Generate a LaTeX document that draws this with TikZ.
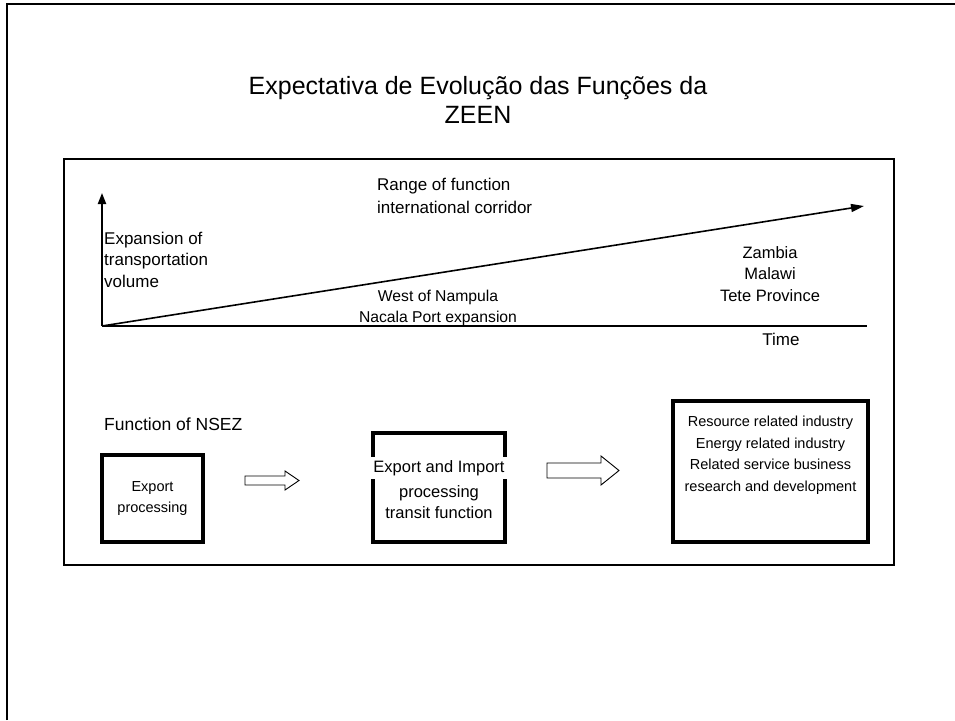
\documentclass[tikz,border=0pt]{standalone}
\usepackage{fontspec}
\setmainfont{Liberation Sans}
\usetikzlibrary{arrows.meta}
\begin{document}
\begin{tikzpicture}[x=1pt,y=-1pt,
  lbl/.style={inner sep=0pt, font=\fontsize{16.5}{21.5}\selectfont},
  small/.style={inner sep=0pt, font=\fontsize{14.5}{21.5}\selectfont},
  fbox/.style={draw, line width=4pt, rectangle, inner sep=0pt},
  axis/.style={line width=2pt},
  hollow/.style={draw, line width=0.9pt, fill=white, line join=miter}]
\useasboundingbox (0,0) rectangle (955,720);
% outer frame
\draw[line width=2pt] (7,720) -- (7,4) -- (955,4);
% title
\node[inner sep=0pt, align=center, font=\fontsize{25}{28.5}\selectfont] (title) at (478,100) {Expectativa de Evolução das Funções da\\ZEEN};
% inner frame
\draw[line width=2.5pt] (64,159) rectangle (894,565);
% axes
\coordinate (O) at (102,326);
\coordinate (ytip) at (102,193);
\coordinate (xend) at (867,326);
\coordinate (dtip) at (864,206);
\draw[axis, -{Triangle[length=11pt,width=8pt]}] (O) -- (ytip);
\draw[axis] (O) -- (xend);
\draw[line width=1.6pt, -{Triangle[length=13pt,width=8pt]}] (O) -- (dtip);
% labels
\node[lbl, anchor=west, align=left, font=\fontsize{17}{23}\selectfont] (range) at (377,195.5) {Range of function\\international corridor};
\node[lbl, anchor=west, align=left, font=\fontsize{17}{21.5}\selectfont] (expv) at (104,259.5) {Expansion of\\transportation\\volume};
\node[lbl, align=center, font=\fontsize{15.7}{21}\selectfont] (west) at (438,308) {West of Nampula\\Nacala Port expansion};
\node[lbl, align=center] (zam) at (770,274) {Zambia\\Malawi\\Tete Province};
\node[lbl, font=\fontsize{17}{21}\selectfont] (time) at (781,339) {Time};
\node[lbl, anchor=west, font=\fontsize{17.5}{21}\selectfont] (fn) at (104,424) {Function of NSEZ};
% boxes
\node[fbox, minimum width=101pt, minimum height=87pt, align=center, small] (b1) at (152.5,498.5) {Export\\processing};
\node[fbox, minimum width=132pt, minimum height=109pt] (b2) at (439,487.5) {};
\node[lbl, fill=white, minimum width=142pt, minimum height=22pt] (b2t1) at (439,468) {Export and Import};
\node[lbl, align=center] (b2t2) at (439,502) {processing\\transit function};
\node[fbox, minimum width=195pt, minimum height=141pt] (b3) at (770.5,471.5) {};
\node[small, align=center] (b3t) at (770.5,455) {Resource related industry\\Energy related industry\\Related service business\\research and development};
% hollow arrows
\draw[hollow] (245,476) -- (285,476) -- (285,471) -- (299,480.5) -- (285,490) -- (285,485) -- (245,485) -- cycle;
\draw[hollow] (547,463) -- (601,463) -- (601,456) -- (619,470.5) -- (601,485) -- (601,478) -- (547,478) -- cycle;
\end{tikzpicture}
\end{document}
